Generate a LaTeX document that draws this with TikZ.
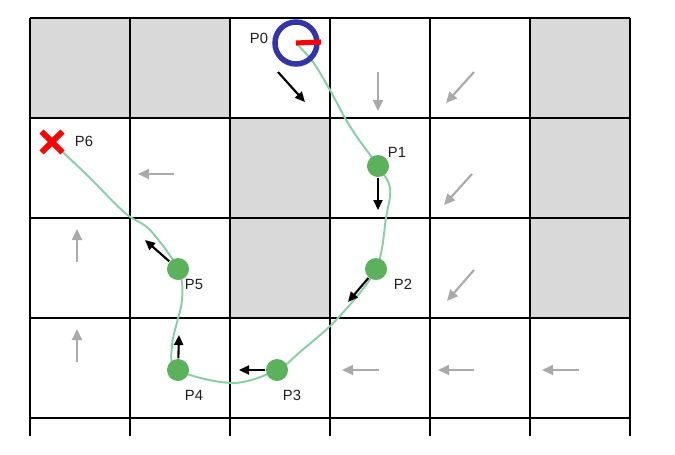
\documentclass[tikz,border=0pt]{standalone}
\usepackage{fontspec}
\setmainfont{Liberation Sans}
\usetikzlibrary{arrows.meta,shapes.misc,backgrounds}

\definecolor{cellgray}{RGB}{217,217,217}
\definecolor{robotblue}{RGB}{51,51,170}
\definecolor{dotgreen}{RGB}{92,178,92}
\definecolor{trackgreen}{RGB}{135,208,165}
\definecolor{hintgray}{RGB}{170,170,170}
\definecolor{textgray}{RGB}{30,30,30}

\begin{document}
\begin{tikzpicture}[x=0.01cm,y=-0.01cm,
    font=\fontsize{4.2}{5}\selectfont,
    wall/.style={fill=cellgray},
    gridline/.style={line width=0.57pt},
    trajectory/.style={draw=trackgreen,line width=0.55pt},
    robot/.style={circle,draw=robotblue,line width=1.55pt,minimum size=0.42cm,inner sep=0},
    heading/.style={draw=red,line width=1.45pt},
    waypoint/.style={circle,fill=dotgreen,minimum size=0.22cm,inner sep=0},
    goal/.style={cross out,draw=red,line width=1.7pt,minimum size=0.15cm,inner sep=0},
    lbl/.style={text=textgray,inner sep=0},
    move/.style={-{Triangle[length=0.1cm,width=0.09cm]},line width=0.6pt},
    hint/.style={-{Triangle[length=0.11cm,width=0.1cm]},draw=hintgray,line width=0.6pt}]
        \useasboundingbox (0,0) rectangle (675,454);
        % robot and waypoints
        \node[robot] (P0) at (296,43) {};
        \coordinate (h0) at (321,42);
        \draw[heading] (P0.center) -- (h0);
        \node[waypoint] (P1) at (378,166) {};
        \node[waypoint] (P2) at (376,269) {};
        \node[waypoint] (P3) at (277,370) {};
        \node[waypoint] (P4) at (178,370) {};
        \node[waypoint] (P5) at (178,269) {};
        \node[goal] (P6) at (52,142) {};
        % labels
        \node[lbl] (L0) at (259,38) {P0};
        \node[lbl] (L1) at (397,152) {P1};
        \node[lbl] (L2) at (403,284) {P2};
        \node[lbl] (L3) at (292,395) {P3};
        \node[lbl] (L4) at (194,395) {P4};
        \node[lbl] (L5) at (194,284) {P5};
        \node[lbl] (L6) at (84,141) {P6};
        % motion arrows
        \coordinate (m0a) at (278,72);
        \coordinate (m0b) at (305,102);
        \coordinate (m1) at (378,210);
        \coordinate (m2) at (348,302);
        \coordinate (m3) at (239,370);
        \coordinate (m4) at (179,335);
        \coordinate (m5) at (145,240);
        \draw[move] (m0a) -- (m0b);
        \draw[move] (P1) -- (m1);
        \draw[move] (P2) -- (m2);
        \draw[move] (P3) -- (m3);
        \draw[move] (P4) -- (m4);
        \draw[move] (P5) -- (m5);
        % policy hints
        \draw[hint] (378,72) -- (378,111);
        \draw[hint] (474,72) -- (446,103);
        \draw[hint] (174,174) -- (138,174);
        \draw[hint] (472,174) -- (444,205);
        \draw[hint] (77,262) -- (77,229);
        \draw[hint] (474,270) -- (447,301);
        \draw[hint] (77,362) -- (77,329);
        \draw[hint] (379,370) -- (342,370);
        \draw[hint] (474,370) -- (438,370);
        \draw[hint] (579,370) -- (542,370);
        \begin{scope}[on background layer]
        % blocked cells
        \fill[wall] (30,18) rectangle (130,118);
        \fill[wall] (130,18) rectangle (230,118);
        \fill[wall] (530,18) rectangle (630,118);
        \fill[wall] (230,118) rectangle (330,218);
        \fill[wall] (530,118) rectangle (630,218);
        \fill[wall] (230,218) rectangle (330,318);
        \fill[wall] (530,218) rectangle (630,318);
        % vertical lines
        \draw[gridline] (30,18) -- (30,436);
        \draw[gridline] (130,18) -- (130,436);
        \draw[gridline] (230,18) -- (230,436);
        \draw[gridline] (330,18) -- (330,436);
        \draw[gridline] (430,18) -- (430,436);
        \draw[gridline] (530,18) -- (530,436);
        \draw[gridline] (630,18) -- (630,436);
        % horizontal lines
        \draw[gridline] (30,18) -- (630,18);
        \draw[gridline] (30,118) -- (630,118);
        \draw[gridline] (30,218) -- (630,218);
        \draw[gridline] (30,318) -- (630,318);
        \draw[gridline] (30,418) -- (630,418);
        % path
        \draw[trajectory] plot[smooth,tension=0.55] coordinates {(P0.center) (313,62)
            (330,90) (345,118) (357,137) (P1.center) (390,188) (386,218) (P2.center)
            (338,318) (300,352) (P3.center) (233,383) (P4.center) (172,345) (182,300)
            (P5.center) (150,230) (125,213) (87,175) (P6.center)};
        \end{scope}
      \end{tikzpicture}
\end{document}
